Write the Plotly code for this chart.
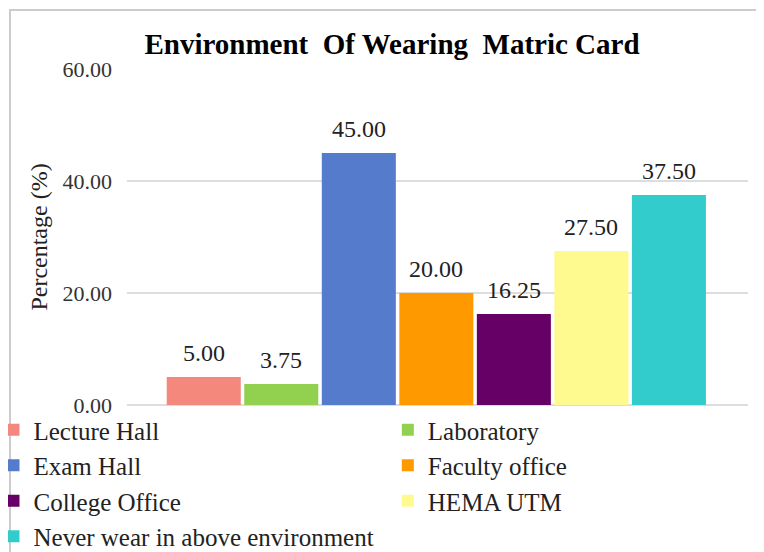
import plotly.graph_objs as go

# data
environments = ['Lecture Hall', 'Laboratory', 'Exam Hall', 'Faculty office',
                'College Office', 'HEMA UTM', 'Never wear in above environment']
percentages = [5.00, 3.75, 45.00, 20.00, 16.25, 27.50, 37.50]
barColors = ['#F4887C', '#92D050', '#557BCD', '#FF9900', '#660066', '#FFFA90', '#33CCCC']
yTicks = [0, 20, 40, 60]

# legend columns as in the picture (left column / right column)
legendOf = ['legend', 'legend2', 'legend', 'legend2', 'legend', 'legend2', 'legend']

serif = 'Liberation Serif, Times New Roman, serif'

fig = go.Figure()
annotations = []
for i, (name, val, col) in enumerate(zip(environments, percentages, barColors)):
    fig.add_trace(
        go.Bar(
            x=[i], y=[val],
            name=name,
            width=0.955,
            marker=dict(color=col, line=dict(width=0)),
            legend=legendOf[i],
            hoverinfo='name+y'
        )
    )
    annotations.append(dict(
        x=i, y=val, xref='x', yref='y',
        text='{:.2f}'.format(val),
        showarrow=False, yanchor='bottom', yshift=9,
        font=dict(family=serif, size=24, color='#222222')
    ))

legendFont = dict(family=serif, size=25, color='#222222')

# the page adds an 8px body margin, so the figure is placed 8px up/left
fig.update_layout(
    width=764, height=552,
    paper_bgcolor='white', plot_bgcolor='white',
    margin=dict(l=119, r=24, t=61, b=155, autoexpand=False),
    barmode='overlay',
    title=dict(
        text='<b>Environment  Of Wearing  Matric Card</b>',
        x=384 / 764, xanchor='center', y=1 - 36 / 552, yanchor='middle',
        font=dict(family=serif, size=29, color='black')
    ),
    font=dict(family=serif, color='#333333'),
    showlegend=True,
    legend=dict(
        orientation='v', x=-0.215, xanchor='left', y=-0.006, yanchor='top',
        font=legendFont, itemwidth=30, tracegroupgap=0, bgcolor='rgba(0,0,0,0)'
    ),
    legend2=dict(
        orientation='v', x=0.420, xanchor='left', y=-0.006, yanchor='top',
        font=legendFont, itemwidth=30, tracegroupgap=0, bgcolor='rgba(0,0,0,0)'
    ),
    xaxis=dict(range=[-0.99, 7.02], showticklabels=False, showline=False,
               showgrid=False, zeroline=False, ticks=''),
    yaxis=dict(
        range=[0, 60], tickvals=yTicks, tickformat='.2f',
        showgrid=True, gridcolor='#DDDDDD', gridwidth=2,
        zeroline=True, zerolinecolor='#DDDDDD', zerolinewidth=2,
        showline=False, ticks='', ticklen=0, ticklabelstandoff=14,
        tickfont=dict(family=serif, size=22, color='#333333'),
        title=dict(text='Percentage (%)', standoff=8,
                   font=dict(family=serif, size=24, color='#222222'))
    ),
    annotations=annotations,
    shapes=[
        # light frame round the whole chart
        dict(type='rect', xref='paper', yref='paper',
             x0=-0.1884, x1=1.1, y0=-0.6, y1=1.1756,
             line=dict(color='#CCCCCC', width=2), layer='below')
    ]
)

fig.write_html('out.html')
